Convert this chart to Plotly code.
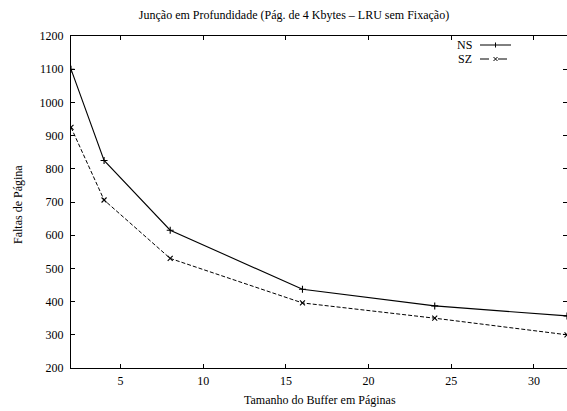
import plotly.graph_objects as go

# Buffer sizes (pages) and page-fault counts for each strategy
buffer_pages = [2, 4, 8, 16, 24, 32]
faults_ns = [1100, 825, 615, 437, 387, 357]
faults_sz = [925, 706, 530, 396, 350, 300]

x_ticks = [5, 10, 15, 20, 25, 30]
y_ticks = [200, 300, 400, 500, 600, 700, 800, 900, 1000, 1100, 1200]

FONT = "Times New Roman"
W, H = 567, 411
L, R, T, B = 71, 0, 36, 43

fig = go.Figure()
fig.add_trace(go.Scatter(
    x=buffer_pages, y=faults_ns, mode="lines+markers", name="NS",
    line=dict(color="black", width=1.1),
    marker=dict(symbol="cross-thin", size=5, line=dict(color="black", width=1.1)),
))
fig.add_trace(go.Scatter(
    x=buffer_pages, y=faults_sz, mode="lines+markers", name="SZ",
    line=dict(color="black", width=1.0, dash="4px,2px"),
    marker=dict(symbol="x-thin", size=5, line=dict(color="black", width=1.1)),
))

axis_common = dict(
    showline=True, linecolor="black", linewidth=1, mirror="ticks",
    ticks="inside", ticklen=4, tickcolor="black", showgrid=False, zeroline=False,
    tickfont=dict(family=FONT, size=12, color="black"),
)

fig.update_xaxes(range=[2, 32], tickvals=x_ticks, ticktext=[str(v) for v in x_ticks],
                 ticklabelstandoff=2, **axis_common)
fig.update_yaxes(range=[200, 1200], tickvals=y_ticks, ticktext=[str(v) for v in y_ticks],
                 ticklabelstandoff=4, **axis_common)

# Hand-drawn key: label on the left, line sample with marker on the right
pw, ph = W - L - R, H - T - B
def px(xp):
    return (xp - L) / pw
def py(yp):
    return (H - B - yp) / ph

shapes = []
annotations = []
key_rows = [("NS", 45, "solid", "cross"), ("SZ", 59, "dash", "x")]
for label, ypix, dash, mk in key_rows:
    annotations.append(dict(
        x=px(474), y=py(ypix), xref="paper", yref="paper", text=label,
        showarrow=False, xanchor="right", yanchor="middle",
        font=dict(family=FONT, size=12, color="black"),
    ))
    shapes.append(dict(type="line", xref="paper", yref="paper",
                       x0=px(480), x1=px(511), y0=py(ypix), y1=py(ypix),
                       line=dict(color="black", width=1.0, dash=dash)))
    cx, cy = 495.5, ypix
    if mk == "cross":
        shapes.append(dict(type="line", xref="paper", yref="paper",
                           x0=px(cx), x1=px(cx), y0=py(cy - 2.5), y1=py(cy + 2.5),
                           line=dict(color="black", width=1.0)))
    else:
        shapes.append(dict(type="line", xref="paper", yref="paper",
                           x0=px(cx - 2), x1=px(cx + 2), y0=py(cy - 2), y1=py(cy + 2),
                           line=dict(color="black", width=1.0)))
        shapes.append(dict(type="line", xref="paper", yref="paper",
                           x0=px(cx - 2), x1=px(cx + 2), y0=py(cy + 2), y1=py(cy - 2),
                           line=dict(color="black", width=1.0)))

# Axis titles
annotations.append(dict(
    x=px(320), y=py(400), xref="paper", yref="paper", text="Tamanho do Buffer em Páginas",
    showarrow=False, xanchor="center", yanchor="middle",
    font=dict(family=FONT, size=12, color="black"),
))
annotations.append(dict(
    x=px(18), y=py(205), xref="paper", yref="paper", text="Faltas de Página",
    showarrow=False, xanchor="center", yanchor="middle", textangle=-90,
    font=dict(family=FONT, size=12, color="black"),
))

fig.update_layout(
    width=W, height=H,
    margin=dict(l=L, r=R, t=T, b=B),
    paper_bgcolor="white", plot_bgcolor="white",
    showlegend=False,
    font=dict(family=FONT, size=12, color="black"),
    title=dict(
        text="Junção em Profundidade (Pág. de 4 Kbytes – LRU sem Fixação)",
        x=294 / W, xanchor="center", y=1 - 15 / H, yanchor="middle",
        xref="container", yref="container",
        font=dict(family=FONT, size=12, color="black"),
    ),
    shapes=shapes, annotations=annotations,
)

fig.write_html("out.html")
